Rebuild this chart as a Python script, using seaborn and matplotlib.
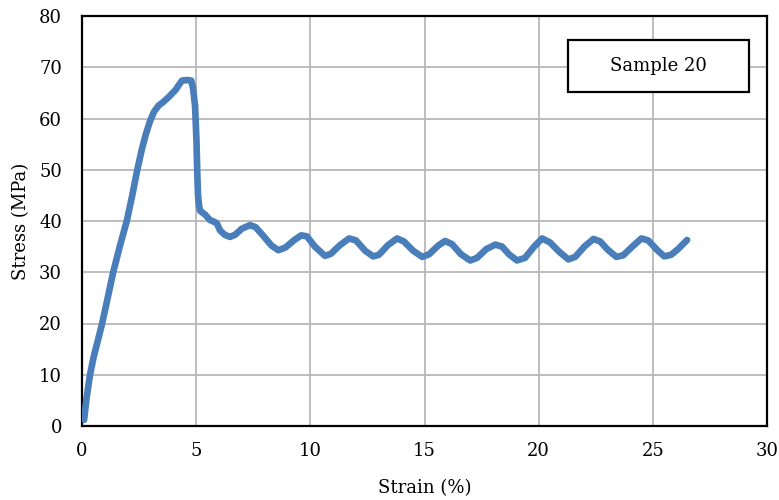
import matplotlib
matplotlib.use("Agg")
import matplotlib.pyplot as plt
import seaborn as sns
import pandas as pd
from matplotlib.patches import Rectangle

strain = [0.09, 0.2, 0.35, 0.5, 0.7, 0.88, 1.1, 1.36, 1.65, 1.96, 2.2, 2.42, 2.62, 2.8, 2.98,
          3.15, 3.35, 3.55, 3.8, 4.1, 4.25, 4.38, 4.6, 4.78, 4.86, 4.95, 5.01, 5.05, 5.08, 5.12, 5.17,
          5.4, 5.6, 5.9, 6.04, 6.25, 6.48, 6.7, 7.0, 7.36, 7.6, 7.9, 8.3, 8.6, 8.9, 9.3, 9.6,
          9.85, 10.2, 10.64, 10.9, 11.3, 11.7, 12.0, 12.4, 12.75, 13.0, 13.4, 13.8, 14.1,
          14.5, 14.9, 15.2, 15.6, 15.9, 16.2, 16.6, 17.0, 17.3, 17.7, 18.1, 18.4, 18.7, 19.05,
          19.4, 19.8, 20.15, 20.5, 20.9, 21.3, 21.6, 22.0, 22.4, 22.7, 23.0, 23.4, 23.7, 24.1,
          24.5, 24.8, 25.2, 25.5, 25.8, 26.1, 26.5]
stress = [1.2, 5.5, 10.0, 13.3, 16.8, 20.0, 24.5, 29.9, 35.0, 40.0, 45.0, 50.0, 54.0, 57.0, 59.5,
          61.3, 62.5, 63.2, 64.2, 65.6, 66.6, 67.4, 67.5, 67.4, 66.0, 62.5, 56.0, 49.0, 45.0, 43.2, 42.0,
          41.2, 40.2, 39.6, 38.2, 37.3, 36.9, 37.3, 38.5, 39.2, 38.8, 37.3, 35.2, 34.3, 34.8, 36.3, 37.2,
          37.0, 35.0, 33.2, 33.6, 35.3, 36.6, 36.2, 34.2, 33.1, 33.4, 35.3, 36.6, 36.0,
          34.2, 33.0, 33.5, 35.2, 36.1, 35.5, 33.5, 32.3, 32.8, 34.5, 35.4, 35.0, 33.5, 32.3,
          32.8, 35.0, 36.6, 35.8, 34.0, 32.5, 33.0, 35.0, 36.5, 36.0, 34.5, 33.0, 33.3, 35.0,
          36.6, 36.2, 34.3, 33.1, 33.4, 34.5, 36.3]

xticks = [0, 5, 10, 15, 20, 25, 30]
yticks = [0, 10, 20, 30, 40, 50, 60, 70, 80]
label_text = "Sample 20"

sns.set_theme(style="white")
plt.rcParams['font.family'] = ['DejaVu Serif']

df = pd.DataFrame({"Strain": strain, "Stress": stress})

fig = plt.figure(figsize=(7.79, 5.00), dpi=100)
ax = fig.add_axes([0.1053, 0.148, 0.8793, 0.82])

sns.lineplot(data=df, x="Strain", y="Stress", ax=ax, color="#4a7ebb", linewidth=4.8,
             solid_capstyle="round", solid_joinstyle="round", sort=False, zorder=3)

ax.set_xlim(0, 30)
ax.set_ylim(0, 80)
ax.set_xticks(xticks)
ax.set_yticks(yticks)
ax.set_xticklabels([str(t) for t in xticks])
ax.set_yticklabels([str(t) for t in yticks])
ax.grid(True, color="#b8b8b8", linewidth=1.3)
ax.set_axisbelow(True)
for s in ax.spines.values():
    s.set_color("black")
    s.set_linewidth(1.6)
ax.tick_params(axis="both", which="both", direction="out", length=4.5, width=1.4,
               color="black", labelsize=13, labelcolor="black")
ax.tick_params(axis="x", pad=7)
ax.tick_params(axis="y", pad=10)
ax.set_xlabel("Strain (%)", fontsize=13, color="black", labelpad=14)
ax.set_ylabel("Stress (MPa)", fontsize=13, color="black", labelpad=6)

rect = Rectangle((0.7095, 0.8146), 0.264, 0.1268, transform=ax.transAxes,
                 facecolor="white", edgecolor="black", linewidth=1.6, zorder=5)
ax.add_patch(rect)
ax.text(0.8415, 0.878, label_text, transform=ax.transAxes, ha="center", va="center",
        fontsize=13, color="black", zorder=6)

fig.savefig("out.png", dpi=100)
